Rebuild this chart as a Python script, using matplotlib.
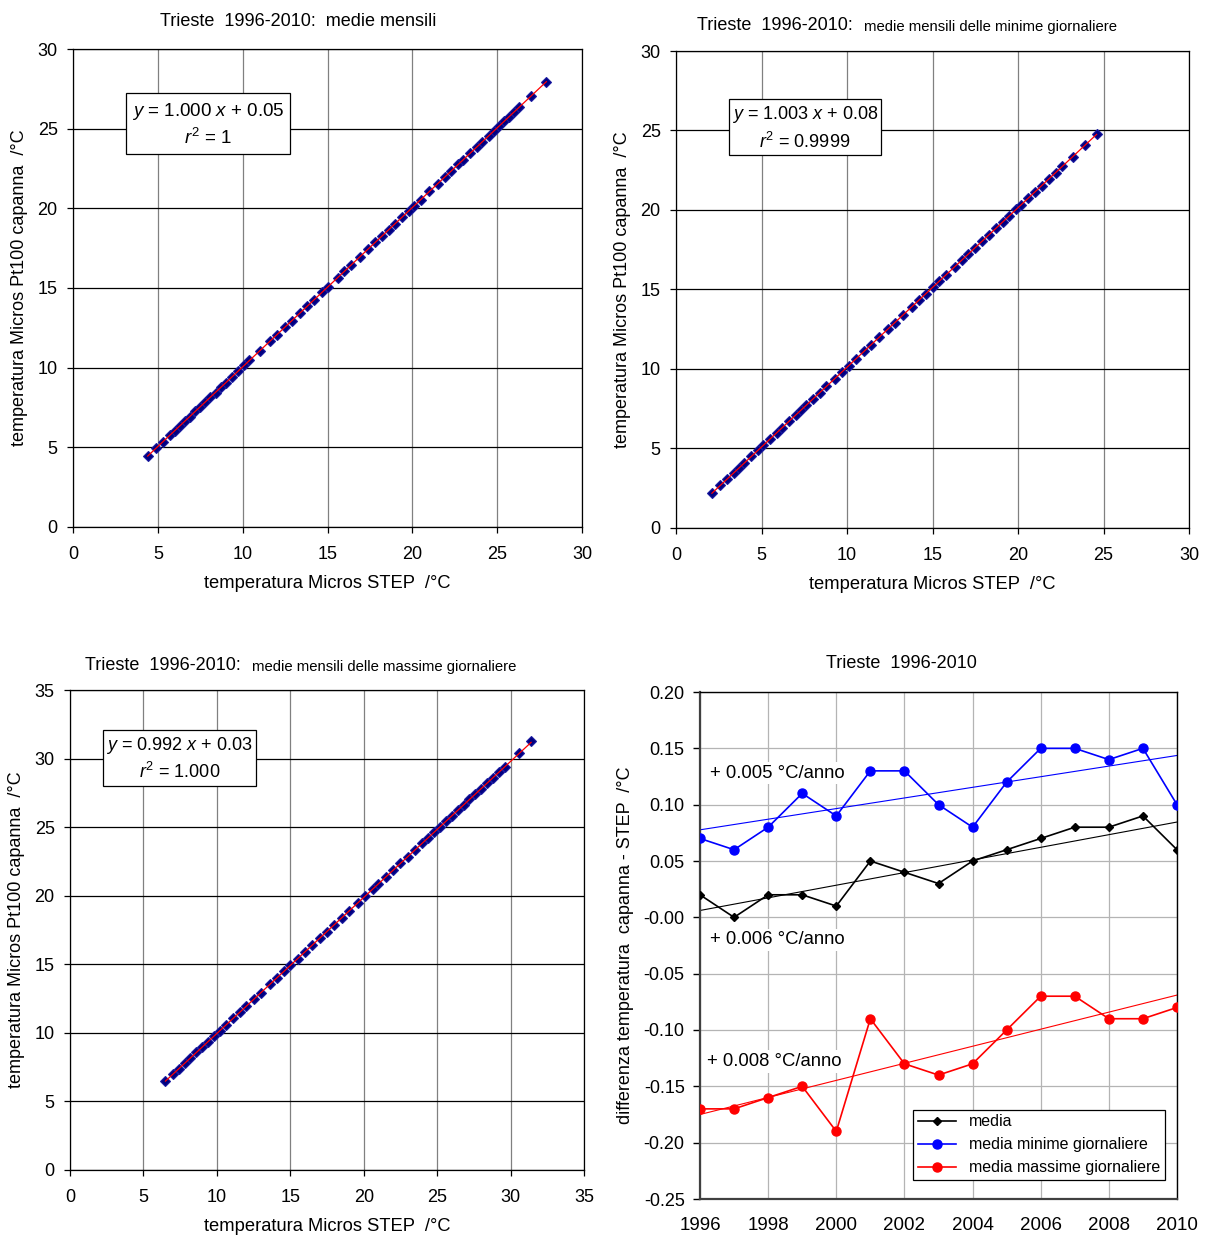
import numpy as np
import matplotlib
matplotlib.use('Agg')
import matplotlib.pyplot as plt

plt.rcParams['font.family'] = ['Liberation Sans', 'DejaVu Sans']
plt.rcParams['mathtext.fontset'] = 'custom'
plt.rcParams['mathtext.rm'] = 'Liberation Sans'
plt.rcParams['mathtext.it'] = 'Liberation Sans:italic'

# monthly means: STEP (x) vs Pt100 capanna (y)
mean_x = [4.4, 4.9, 5.3, 5.7, 6.0, 6.3, 6.6, 6.9, 7.2, 7.5, 7.8, 8.1, 8.4, 8.7, 9.0,
          9.4, 9.7, 10.1, 10.4, 11.0, 11.6, 12.0, 12.5, 12.9, 13.4, 13.8, 14.2, 14.7,
          15.0, 15.6, 16.0, 16.4, 16.9, 17.4, 17.8, 18.2, 18.6, 19.0, 19.4, 19.8, 20.1,
          20.5, 21.0, 21.5, 21.9, 22.3, 22.7, 23.0, 23.4, 23.8, 24.1, 24.5, 24.8, 25.1,
          25.4, 25.7, 26.0, 26.3, 27.0, 27.9]
mean_y = [4.45, 4.97, 5.33, 5.76, 6.05, 6.36, 6.64, 6.93, 7.27, 7.54, 7.84, 8.17, 8.44,
          8.76, 9.05, 9.43, 9.77, 10.14, 10.46, 11.04, 11.67, 12.04, 12.56, 12.94, 13.46,
          13.84, 14.27, 14.74, 15.06, 15.64, 16.07, 16.44, 16.96, 17.43, 17.86, 18.24,
          18.67, 19.04, 19.46, 19.83, 20.17, 20.54, 21.06, 21.53, 21.97, 22.34, 22.76,
          23.04, 23.47, 23.84, 24.17, 24.54, 24.86, 25.14, 25.47, 25.74, 26.06, 26.33,
          27.04, 27.95]

min_x = [2.1, 2.6, 3.0, 3.4, 3.7, 4.0, 4.4, 4.8, 5.1, 5.5, 5.9, 6.2, 6.6, 7.0, 7.3, 7.6,
         8.0, 8.4, 8.8, 9.3, 9.7, 10.1, 10.5, 11.0, 11.4, 11.9, 12.4, 12.8, 13.3, 13.8,
         14.2, 14.6, 15.0, 15.4, 15.8, 16.3, 16.7, 17.1, 17.5, 17.9, 18.3, 18.7, 19.1,
         19.5, 19.9, 20.2, 20.6, 21.0, 21.4, 21.8, 22.2, 22.6, 23.2, 23.9, 24.6]
min_y = [2.18, 2.69, 3.10, 3.47, 3.80, 4.09, 4.50, 4.90, 5.19, 5.61, 6.00, 6.30, 6.71,
         7.10, 7.40, 7.71, 8.11, 8.50, 8.91, 9.40, 9.81, 10.21, 10.61, 11.11, 11.52,
         12.01, 12.52, 12.92, 13.42, 13.93, 14.32, 14.72, 15.13, 15.53, 15.93, 16.44,
         16.83, 17.24, 17.64, 18.03, 18.44, 18.84, 19.24, 19.64, 20.05, 20.34, 20.75,
         21.15, 21.54, 21.95, 22.35, 22.75, 23.36, 24.06, 24.76]

max_x = [6.5, 7.0, 7.4, 7.8, 8.2, 8.6, 9.0, 9.4, 9.8, 10.2, 10.6, 11.1, 11.6, 12.0, 12.5,
         13.0, 13.6, 14.1, 14.6, 15.0, 15.5, 16.0, 16.5, 17.0, 17.5, 18.0, 18.5, 19.0,
         19.6, 20.1, 20.6, 21.0, 21.5, 22.0, 22.5, 23.0, 23.5, 24.0, 24.4, 24.8, 25.2,
         25.6, 26.0, 26.4, 26.8, 27.2, 27.6, 28.0, 28.4, 28.8, 29.2, 29.6, 30.6, 31.4]
max_y = [6.48, 6.98, 7.37, 7.80, 8.17, 8.59, 8.96, 9.36, 9.76, 10.15, 10.55, 11.05, 11.54,
         11.94, 12.44, 12.93, 13.53, 14.03, 14.51, 14.92, 15.41, 15.90, 16.41, 16.90,
         17.39, 17.88, 18.38, 18.87, 19.46, 19.97, 20.47, 20.86, 21.35, 21.85, 22.35,
         22.84, 23.34, 23.84, 24.22, 24.64, 25.02, 25.43, 25.81, 26.22, 26.61, 27.02,
         27.41, 27.80, 28.20, 28.60, 28.99, 29.40, 30.38, 31.30]

# yearly differences capanna - STEP
years = [1996, 1997, 1998, 1999, 2000, 2001, 2002, 2003, 2004, 2005, 2006, 2007, 2008, 2009, 2010]
diff_media = [0.02, 0.00, 0.02, 0.02, 0.01, 0.05, 0.04, 0.03, 0.05, 0.06, 0.07, 0.08, 0.08, 0.09, 0.06]
diff_min = [0.07, 0.06, 0.08, 0.11, 0.09, 0.13, 0.13, 0.10, 0.08, 0.12, 0.15, 0.15, 0.14, 0.15, 0.10]
diff_max = [-0.17, -0.17, -0.16, -0.15, -0.19, -0.09, -0.13, -0.14, -0.13, -0.10, -0.07, -0.07, -0.09, -0.09, -0.08]

W, H = 1215, 1237
fig = plt.figure(figsize=(W / 100, H / 100), dpi=100)


def px_axes(x0, y0, x1, y1):
    return fig.add_axes([x0 / W, 1 - y1 / H, (x1 - x0) / W, (y1 - y0) / H])


def title(x, y, main, extra=None):
    t = fig.text(x / W, 1 - y / H, main, fontsize=13, ha='left', va='center')
    if extra:
        fig.add_artist(plt.Annotation(extra, xy=(1, 0), xycoords=t, xytext=(8, 0.5),
                                      textcoords='offset points', fontsize=10.7,
                                      ha='left', va='bottom', annotation_clip=False))


def scatter_panel(ax, x, y, lim, eq, r2, box_pos, fs=13.0, pad=0.18):
    ax.set_xlim(0, lim)
    ax.set_ylim(0, lim)
    ax.set_xticks(np.arange(0, lim + 1, 5))
    ax.set_yticks(np.arange(0, lim + 1, 5))
    ax.grid(True, axis='y', color='black', lw=0.9)
    ax.grid(True, axis='x', color='#808080', lw=0.9)
    ax.set_axisbelow(True)
    for s in ax.spines.values():
        s.set_color('black')
        s.set_linewidth(0.9)
    ax.tick_params(direction='out', length=4, width=0.9, labelsize=13)
    ax.tick_params(axis='y', pad=7)
    ax.tick_params(axis='x', pad=10)
    ax.plot(x, y, ls='none', marker='D', ms=5, mfc='#000080', mec='#1a1aa0', mew=0.8, zorder=3)
    k, q = np.polyfit(x, y, 1)
    xs = np.array([min(x), max(x)])
    ax.plot(xs, k * xs + q, color='red', lw=0.9, zorder=4)
    ax.text(box_pos[0], box_pos[1], eq + '\n' + r2, transform=ax.transAxes, fontsize=fs,
            ha='center', va='center', multialignment='center', linespacing=1.4,
            bbox=dict(boxstyle='square,pad=%.2f' % pad, fc='white', ec='black', lw=0.9))
    ax.set_xlabel('temperatura Micros STEP  /°C', fontsize=13.2, labelpad=8)
    ax.set_ylabel('temperatura Micros Pt100 capanna  /°C', fontsize=13, labelpad=7)


ax1 = px_axes(73, 49, 582, 527)
scatter_panel(ax1, mean_x, mean_y, 30, r'$y$ = 1.000 $x$ + 0.05', r'$r^2$ = 1', (0.265, 0.842),
              fs=13.5, pad=0.3)
title(160, 22, 'Trieste  1996-2010:  medie mensili')

ax2 = px_axes(676, 51, 1189, 528)
scatter_panel(ax2, min_x, min_y, 30, r'$y$ = 1.003 $x$ + 0.08', r'$r^2$ = 0.9999', (0.2515, 0.839))
title(697, 26, 'Trieste  1996-2010:', 'medie mensili delle minime giornaliere')

ax3 = px_axes(70, 690, 584, 1170)
scatter_panel(ax3, max_x, max_y, 35, r'$y$ = 0.992 $x$ + 0.03', r'$r^2$ = 1.000', (0.213, 0.857))
title(85, 666, 'Trieste  1996-2010:', 'medie mensili delle massime giornaliere')

# differences panel
ax4 = px_axes(700, 692, 1177, 1199)
ax4.set_xlim(1996, 2010)
ax4.set_ylim(-0.25, 0.20)
ax4.set_xticks(np.arange(1996, 2011, 2))
ax4.set_yticks(np.arange(-0.25, 0.201, 0.05))
ax4.yaxis.set_major_formatter(plt.FormatStrFormatter('%.2f'))
ax4.grid(True, color='#b4b4b4', lw=0.9)
ax4.set_axisbelow(True)
for side in ('top', 'right'):
    ax4.spines[side].set_color('black')
    ax4.spines[side].set_linewidth(1.0)
for side in ('left', 'bottom'):
    ax4.spines[side].set_color('#404040')
    ax4.spines[side].set_linewidth(1.6)
ax4.tick_params(axis='y', direction='out', length=5, width=1, labelsize=13, pad=6)
ax4.tick_params(axis='x', length=0, labelsize=13.5, pad=13)

series = [(diff_media, 'black', 'D', 4, 'media'),
          (diff_min, 'blue', 'o', 6.5, 'media minime giornaliere'),
          (diff_max, 'red', 'o', 6.5, 'media massime giornaliere')]
for vals, col, mk, ms, lab in series:
    ax4.plot(years, vals, color=col, marker=mk, ms=ms, lw=1.2, label=lab, zorder=3)
    k, q = np.polyfit(years, vals, 1)
    xs = np.array([years[0], years[-1]])
    ax4.plot(xs, k * xs + q, color=col, lw=0.8, zorder=2)

ann_box = dict(boxstyle='square,pad=0.15', fc='white', ec='none')
ax4.text(1996.3, 0.128, '+ 0.005 °C/anno', fontsize=13.3, va='center', bbox=ann_box, zorder=1.5)
ax4.text(1996.3, -0.020, '+ 0.006 °C/anno', fontsize=13.3, va='center', bbox=ann_box, zorder=1.5)
ax4.text(1996.2, -0.128, '+ 0.008 °C/anno', fontsize=13.3, va='center', bbox=ann_box, zorder=1.5)

leg = ax4.legend(loc='lower right', bbox_to_anchor=(0.975, 0.037), fontsize=11.5, frameon=True,
                 fancybox=False, edgecolor='black', framealpha=1, borderaxespad=0,
                 handlelength=2.4, labelspacing=0.5, borderpad=0.3, handletextpad=0.8)
leg.get_frame().set_linewidth(0.9)

ax4.set_ylabel('differenza temperatura  capanna - STEP  /°C', fontsize=13, labelpad=7)
fig.text(826 / W, 1 - 664 / H, 'Trieste  1996-2010', fontsize=13, ha='left', va='center')

fig.savefig('out.png', dpi=100)
